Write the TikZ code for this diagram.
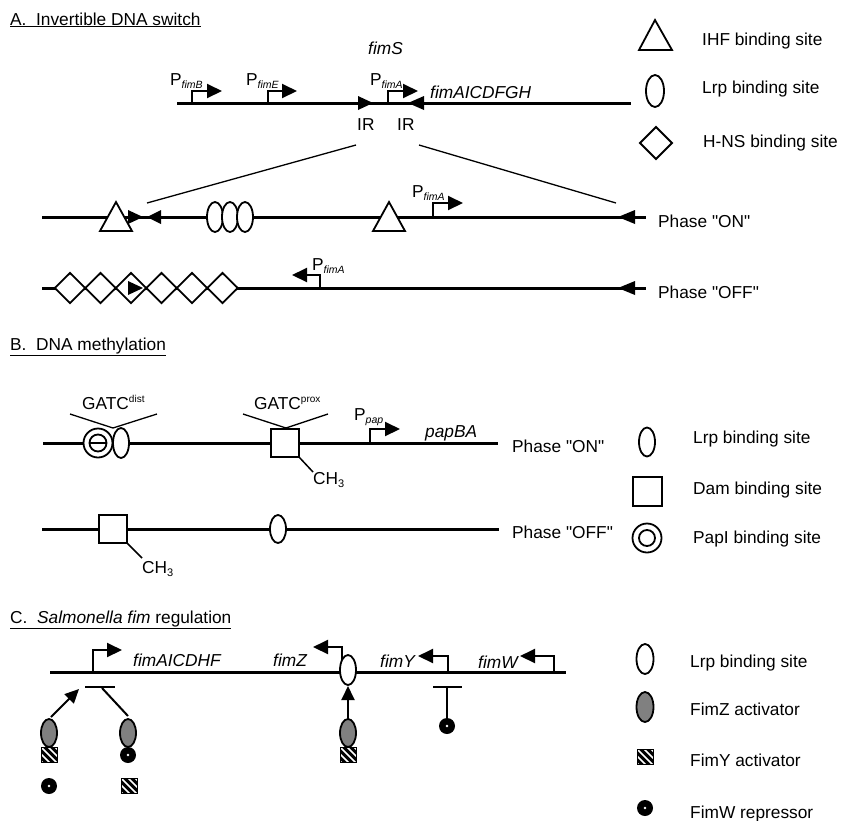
\documentclass[tikz,border=0pt]{standalone}
\usepackage{fontspec}
\setmainfont{Liberation Sans}[Ligatures=TeXOff]
\usetikzlibrary{arrows.meta}
\definecolor{fimzgray}{RGB}{128,128,128}
\newcommand\psub[1]{\raisebox{-3pt}{\fontsize{10.5}{12}\selectfont\textit{#1}}}
\newcommand\psup[1]{\raisebox{7pt}{\fontsize{10}{12}\selectfont #1}}
\newcommand\chthree{CH\raisebox{-3pt}{\fontsize{11}{12}\selectfont 3}}
\tikzset{
  dna/.style={line width=3pt},
  expline/.style={line width=1.3pt},
  lbl/.style={anchor=base west, inner sep=0pt, font=\fontsize{17.3}{20}\selectfont},
  shp/.style={draw, line width=1.8pt, fill=white},
  prom/.style={line width=2pt, -{Triangle[length=15pt,width=14pt]}},
  act/.style={line width=2pt, -{Triangle[length=14pt,width=13pt]}},
  bar/.style={line width=2pt},
  hatchsq/.pic={
    \begin{scope}
      \clip (-8,-7.5) rectangle (8,7.5);
      \fill[black] (-8,-7.5) rectangle (8,7.5);
      \foreach \d in {-14,-7,0,7,14} \draw[white, line width=1.7pt] (\d-10,-10) -- (\d+10,10);
    \end{scope}
    \draw[line width=1pt] (-8,-7.5) rectangle (8,7.5);
  },
  repdot/.pic={
    \fill (0,0) circle (8pt);
    \fill[white] (0,0) circle (1.3pt);
  },
  gellipse/.style={draw, line width=1.8pt, fill=fimzgray},
}
\begin{document}
\begin{tikzpicture}[x=1pt,y=-1pt]
\useasboundingbox (0,0) rectangle (843,820);

%================ A =================
\node[lbl] (titleA) at (10,25) {\underline{A.\ \ Invertible DNA switch}};

% top line
\coordinate (topL) at (177,103);
\coordinate (topR) at (631,103);
\draw[dna] (topL) -- (topR);
\draw[prom] (192,103) |- (222,91);
\draw[prom] (268,103) |- (297,91);
\draw[prom] (388,103) |- (418,91);
\fill (373,103) -- (358,96) -- (358,110) -- cycle;
\fill (408,103) -- (424,96) -- (424,110) -- cycle;
\node[lbl] (pB) at (170,85) {P\psub{fimB}};
\node[lbl] (pE) at (246,85) {P\psub{fimE}};
\node[lbl] (pA) at (370,85) {P\psub{fimA}};
\node[lbl] (fimS) at (368,54) {\textit{fimS}};
\node[lbl] (fimAG) at (430,98) {\textit{fimAICDFGH}};
\node[lbl] (ir1) at (357,130) {IR};
\node[lbl] (ir2) at (397,130) {IR};

% expansion lines
\coordinate (exL1) at (356,145);
\coordinate (exL2) at (147,203);
\coordinate (exR1) at (419,145);
\coordinate (exR2) at (616,203);
\draw[expline] (exL1) -- (exL2);
\draw[expline] (exR1) -- (exR2);

% Phase ON
\coordinate (onL) at (42,217);
\coordinate (onR) at (646,217);
\draw[dna] (onL) -- (onR);
\draw[shp] (116,202) -- (100,231) -- (132,231) -- cycle;
\draw[shp] (389,202) -- (373,231) -- (405,231) -- cycle;
\foreach \cx in {215,230,245} \draw[shp] (\cx,217) ellipse [x radius=8pt, y radius=15pt];
\fill (143,217) -- (128,210) -- (128,224) -- cycle;
\fill (147,217) -- (161,210) -- (161,224) -- cycle;
\fill (618,217) -- (635,210) -- (635,224) -- cycle;
\draw[prom] (433,217) |- (463,203);
\node[lbl] (pAon) at (412,197) {P\psub{fimA}};
\node[lbl] (phOnA) at (658,227) {Phase "ON"};

% Phase OFF
\coordinate (offL) at (42,288);
\coordinate (offR) at (646,288);
\draw[dna] (offL) -- (offR);
\foreach \cx in {70,100.5,131,161.5,192,222.5}
  \draw[shp] (\cx,273) -- (\cx+15.25,288) -- (\cx,303) -- (\cx-15.25,288) -- cycle;
\fill (143,288) -- (128,281) -- (128,295) -- cycle;
\fill (618,288) -- (635,281) -- (635,295) -- cycle;
\draw[prom] (320,288) |- (292,275);
\node[lbl] (pAoff) at (312,270) {P\psub{fimA}};
\node[lbl] (phOffA) at (658,298) {Phase "OFF"};

% legend A
\draw[shp] (655,20) -- (639,50) -- (672,50) -- cycle;
\node[lbl] (lgIHF) at (702,45) {IHF binding site};
\draw[shp] (655,91) ellipse [x radius=9pt, y radius=16pt];
\node[lbl] (lgLrpA) at (702,93) {Lrp binding site};
\draw[shp] (656,127) -- (672,143) -- (656,159) -- (640,143) -- cycle;
\node[lbl] (lgHNS) at (703,147) {H-NS binding site};

%================ B =================
\node[lbl] (titleB) at (10,350) {\underline{B.\ \ DNA methylation}};

\coordinate (bonL) at (43,443);
\coordinate (bonR) at (498,443);
\draw[dna] (bonL) -- (bonR);
\draw[expline] (70,414) -- (113,428) -- (157,414);
\draw[expline] (243,414) -- (286,428) -- (328,414);
\draw[shp] (121,443) ellipse [x radius=8pt, y radius=15pt];
\draw[shp] (98,443) circle (14.5pt);
\draw[shp] (98,443) circle (8.5pt);
\draw[line width=1.8pt] (90,443) -- (106,443);
\draw[shp] (271,429) rectangle (299,457);
\draw[line width=1.5pt] (299,457) -- (313,472);
\node[lbl] (ch3a) at (313,484) {\chthree};
\draw[prom] (370,443) |- (400,429);
\node[lbl] (ppap) at (354,420) {P\psub{pap}};
\node[lbl] (papBA) at (425,437) {\textit{papBA}};
\node[lbl] (gd) at (82,409) {GATC\psup{dist}};
\node[lbl] (gp) at (254,409) {GATC\psup{prox}};
\node[lbl] (phOnB) at (512,452) {Phase "ON"};

\coordinate (boffL) at (42,529);
\coordinate (boffR) at (499,529);
\draw[dna] (boffL) -- (boffR);
\draw[shp] (99,515) rectangle (127,543);
\draw[line width=1.5pt] (127,543) -- (142,558);
\node[lbl] (ch3b) at (142,573) {\chthree};
\draw[shp] (278,529) ellipse [x radius=8pt, y radius=14pt];
\node[lbl] (phOffB) at (512,538) {Phase "OFF"};

% legend B
\draw[shp] (647,442) ellipse [x radius=8pt, y radius=14.5pt];
\node[lbl] (lgLrpB) at (693,443) {Lrp binding site};
\draw[shp] (633,477) rectangle (662,506);
\node[lbl] (lgDam) at (693,494) {Dam binding site};
\draw[shp] (647,538) circle (14.5pt);
\draw[shp] (647,538) circle (8pt);
\node[lbl] (lgPapI) at (693,543) {PapI binding site};

%================ C =================
\node[lbl] (titleC) at (10,623) {\underline{C.\ \ \textit{Salmonella fim} regulation}};

\coordinate (cL) at (50,672);
\coordinate (cR) at (566,672);
\draw[dna] (cL) -- (cR);
\draw[prom] (93,672) |- (122,650);
\node[lbl] (fimAH) at (133,666) {\textit{fimAICDHF}};
\draw[prom] (342,672) |- (313,647);
\node[lbl] (fimZ) at (273,666) {\textit{fimZ}};
\draw[shp] (348,670) ellipse [x radius=8pt, y radius=15pt];
\draw[prom] (448,672) |- (418,656);
\node[lbl] (fimY) at (380,667) {\textit{fimY}};
\draw[prom] (554,672) |- (520,656);
\node[lbl] (fimW) at (478,668) {\textit{fimW}};

% left group
\coordinate (tbarL) at (85,687);
\coordinate (tbarR) at (115,687);
\draw[bar] (tbarL) -- (tbarR);
\draw[act] (51,717) -- (79,689);
\draw[bar] (128,716) -- (102,688);
\draw[gellipse] (49,733) ellipse [x radius=8pt, y radius=14pt];
\pic at (49,755) {hatchsq};
\pic at (49,786) {repdot};
\draw[gellipse] (128,733) ellipse [x radius=8pt, y radius=14pt];
\pic at (128,755) {repdot};
\pic at (129,786) {hatchsq};

% middle group
\draw[act] (348,719) -- (348,686);
\draw[gellipse] (348,733) ellipse [x radius=8pt, y radius=14pt];
\pic at (348,755) {hatchsq};

% fimW repression
\draw[bar] (433,687) -- (462,687);
\draw[bar] (447,687) -- (447,718);
\pic at (447,726) {repdot};

% legend C
\draw[shp] (645,659) ellipse [x radius=8.5pt, y radius=15pt];
\node[lbl] (lgLrpC) at (690,667) {Lrp binding site};
\draw[gellipse] (645,707) ellipse [x radius=8.5pt, y radius=15pt];
\node[lbl] (lgFimZ) at (690,715) {FimZ activator};
\pic at (645,757) {hatchsq};
\node[lbl] (lgFimY) at (690,766) {FimY activator};
\pic at (645,808) {repdot};
\node[lbl] (lgFimW) at (690,818) {FimW repressor};
\end{tikzpicture}
\end{document}
